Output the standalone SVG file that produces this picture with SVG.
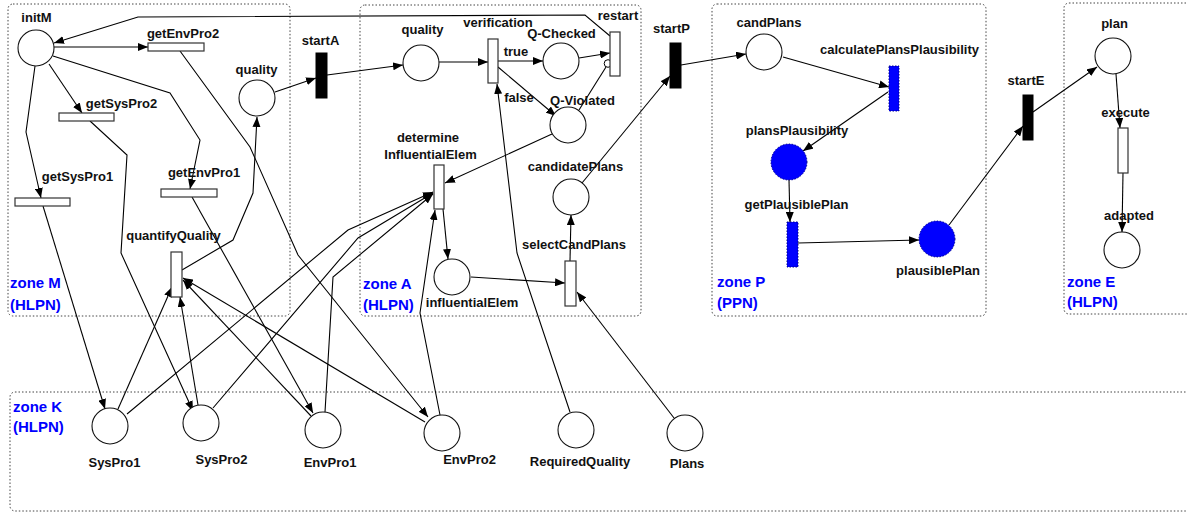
<svg xmlns="http://www.w3.org/2000/svg" width="1187" height="512" viewBox="0 0 1187 512">
<style>
.zone{fill:none;stroke:#444;stroke-width:1;stroke-dasharray:1.5,2}
.pl{fill:#fff;stroke:#111;stroke-width:1.1}
.tr{fill:#fff;stroke:#333;stroke-width:1.2}
.bar{fill:#000;stroke:#000}
.bpl{fill:#0000ff;stroke:#00008b;stroke-width:1;stroke-dasharray:1.5,1.5}
.lbl{font-family:"Liberation Sans",Arial,sans-serif;font-weight:bold;font-size:13px;fill:#111;text-anchor:middle}
.zl{font-family:"Liberation Sans",Arial,sans-serif;font-weight:bold;font-size:15px;fill:#0000ff}
.c{fill:none;stroke:#000;stroke-width:1.1}
.a{marker-end:url(#ah)}
</style>
<defs>
<marker id="ah" markerUnits="userSpaceOnUse" markerWidth="11" markerHeight="8" refX="10" refY="4" orient="auto">
<path d="M0,0 L10,4 L0,8 z" fill="#000"/>
</marker>
</defs>
<rect width="1187" height="512" fill="#fff"/>
<g id="zones">
<rect class="zone" x="8" y="4" width="282" height="312" rx="5"/>
<rect class="zone" x="360" y="5" width="281" height="311" rx="5"/>
<rect class="zone" x="712" y="4" width="274" height="312" rx="5"/>
<rect class="zone" x="1064" y="3" width="140" height="311" rx="5"/>
<rect class="zone" x="10" y="392" width="1200" height="119" rx="5"/>
<text class="zl" x="10" y="288">zone M</text><text class="zl" x="10" y="310">(HLPN)</text>
<text class="zl" x="363" y="289">zone A</text><text class="zl" x="363" y="310">(HLPN)</text>
<text class="zl" x="717" y="287">zone P</text><text class="zl" x="717" y="308">(PPN)</text>
<text class="zl" x="1067" y="287">zone E</text><text class="zl" x="1067" y="307">(HLPN)</text>
<text class="zl" x="13" y="412">zone K</text><text class="zl" x="13" y="432">(HLPN)</text>
</g>
<g id="connectors">
<polyline class="c a" points="610,36 585,15 138,17 54,43"/>
<line class="c a" x1="54" y1="47" x2="148" y2="47"/>
<line class="c a" x1="49" y1="64" x2="82" y2="113"/>
<polyline class="c a" points="35,66 26,132 41,198"/>
<polyline class="c a" points="53,56 170,93 200,140 190,189"/>
<polyline class="c a" points="180,51 250,147 298,255 428,417"/>
<polyline class="c a" points="90,121 127,155 121,253 193,411"/>
<line class="c a" x1="43" y1="206" x2="105" y2="409"/>
<line class="c a" x1="192" y1="197" x2="313" y2="413"/>
<polyline class="c a" points="182,270 233,240 253,193 257,117"/>
<line class="c a" x1="118" y1="409" x2="172" y2="287"/>
<line class="c a" x1="198" y1="405" x2="180" y2="297"/>
<line class="c a" x1="311" y1="416" x2="183" y2="280"/>
<line class="c a" x1="425" y1="422" x2="183" y2="278"/>
<polyline class="c a" points="127,414 348,230 433,192"/>
<polyline class="c a" points="213,408 358,238 433,193"/>
<polyline class="c a" points="325,412 333,277 433,194"/>
<polyline class="c a" points="440,415 420,313 435,210"/>
<line class="c a" x1="552" y1="134" x2="445" y2="183"/>
<line class="c a" x1="443" y1="209" x2="448" y2="259"/>
<line class="c a" x1="471" y1="277" x2="565" y2="283"/>
<line class="c a" x1="674" y1="418" x2="577" y2="292"/>
<line class="c a" x1="570" y1="261" x2="571" y2="215"/>
<line class="c a" x1="582" y1="183" x2="670" y2="76"/>
<polyline class="c a" points="570,412 517,253 497,84"/>
<line class="c a" x1="275" y1="92" x2="316" y2="78"/>
<line class="c a" x1="327" y1="75" x2="403" y2="65"/>
<line class="c a" x1="439" y1="62" x2="488" y2="62"/>
<line class="c a" x1="498" y1="61" x2="543" y2="61"/>
<line class="c a" x1="498" y1="67" x2="556" y2="116"/>
<line class="c a" x1="579" y1="58" x2="610" y2="53"/>
<line class="c" x1="579" y1="110" x2="606" y2="67"/>
<circle cx="608" cy="63.5" r="3.8" fill="#fff" stroke="#000" stroke-width="1"/>
<line class="c a" x1="681" y1="65" x2="746" y2="54"/>
<line class="c a" x1="783" y1="57" x2="889" y2="87"/>
<line class="c a" x1="888" y1="92" x2="803" y2="151"/>
<line class="c a" x1="789" y1="180" x2="790" y2="222"/>
<line class="c a" x1="798" y1="243" x2="919" y2="240"/>
<line class="c a" x1="949" y1="225" x2="1023" y2="126"/>
<line class="c a" x1="1033" y1="112" x2="1097" y2="67"/>
<line class="c a" x1="1116" y1="74" x2="1120" y2="128"/>
<line class="c a" x1="1123" y1="173" x2="1122" y2="232"/>
</g>
<g id="initM"><circle class="pl" cx="36" cy="48" r="18"/><text class="lbl" x="36.5" y="22">initM</text></g>
<g id="getEnvPro2"><rect class="tr" x="148" y="43" width="56" height="8"/><text class="lbl" x="183" y="38">getEnvPro2</text></g>
<g id="getSysPro2"><rect class="tr" x="59" y="113" width="55" height="8"/><text class="lbl" x="121.5" y="108">getSysPro2</text></g>
<g id="getSysPro1"><rect class="tr" x="15" y="198" width="55" height="8"/><text class="lbl" x="77.5" y="181">getSysPro1</text></g>
<g id="getEnvPro1"><rect class="tr" x="161" y="189" width="56" height="8"/><text class="lbl" x="204" y="177">getEnvPro1</text></g>
<g id="quantifyQuality"><rect class="tr" x="171" y="252" width="11" height="45"/><text class="lbl" x="173.5" y="240">quantifyQuality</text></g>
<g id="qualityM"><circle class="pl" cx="257" cy="98" r="18"/><text class="lbl" x="256.5" y="74">quality</text></g>
<g id="startA"><rect class="bar" x="316" y="53" width="11" height="45"/><text class="lbl" x="320.5" y="45">startA</text></g>
<g id="qualityA"><circle class="pl" cx="421" cy="63" r="18"/><text class="lbl" x="422.5" y="34">quality</text></g>
<g id="verification"><rect class="tr" x="488" y="39" width="10" height="44"/><text class="lbl" x="498" y="27">verification</text></g>
<g id="QChecked"><circle class="pl" cx="561" cy="61" r="18"/><text class="lbl" x="561.5" y="38">Q-Checked</text></g>
<g id="restart"><rect class="tr" x="610" y="32" width="10" height="44"/><text class="lbl" x="618" y="20">restart</text></g>
<g id="QViolated"><circle class="pl" cx="568" cy="125" r="18"/><text class="lbl" x="582.5" y="105">Q-Violated</text></g>
<g id="arcLabels"><text class="lbl" x="516" y="56">true</text><text class="lbl" x="519" y="102">false</text></g>
<g id="determineInfluentialElem"><rect class="tr" x="434" y="165" width="10" height="44"/><text class="lbl" x="428" y="142">determine</text><text class="lbl" x="430.5" y="159">InfluentialElem</text></g>
<g id="influentialElem"><circle class="pl" cx="452" cy="277" r="18"/><text class="lbl" x="472" y="307">influentialElem</text></g>
<g id="candidatePlans"><circle class="pl" cx="571" cy="197" r="18"/><text class="lbl" x="575.5" y="171">candidatePlans</text></g>
<g id="selectCandPlans"><rect class="tr" x="565" y="261" width="11" height="45"/><text class="lbl" x="574" y="249">selectCandPlans</text></g>
<g id="startP"><rect class="bar" x="670" y="43" width="11" height="45"/><text class="lbl" x="671.5" y="33">startP</text></g>
<g id="candPlans"><circle class="pl" cx="764" cy="52" r="18"/><text class="lbl" x="769" y="27">candPlans</text></g>
<g id="calculatePlansPlausibility"><rect class="bpl" x="889" y="66" width="10" height="45"/><text class="lbl" x="899.5" y="54">calculatePlansPlausibility</text></g>
<g id="plansPlausibility"><circle class="bpl" cx="789" cy="162" r="18"/><text class="lbl" x="797" y="135">plansPlausibility</text></g>
<g id="getPlausiblePlan"><rect class="bpl" x="787" y="222" width="11" height="45"/><text class="lbl" x="796.5" y="209">getPlausiblePlan</text></g>
<g id="plausiblePlan"><circle class="bpl" cx="937" cy="239" r="18"/><text class="lbl" x="938" y="275">plausiblePlan</text></g>
<g id="startE"><rect class="bar" x="1023" y="95" width="10" height="45"/><text class="lbl" x="1026" y="85">startE</text></g>
<g id="plan"><circle class="pl" cx="1113" cy="56" r="18"/><text class="lbl" x="1114.5" y="28">plan</text></g>
<g id="execute"><rect class="tr" x="1118" y="128" width="10" height="45"/><text class="lbl" x="1125.5" y="117">execute</text></g>
<g id="adapted"><circle class="pl" cx="1122" cy="250" r="18"/><text class="lbl" x="1129" y="220">adapted</text></g>
<g id="SysPro1"><circle class="pl" cx="110" cy="426" r="18"/><text class="lbl" x="114.5" y="467">SysPro1</text></g>
<g id="SysPro2"><circle class="pl" cx="201" cy="423" r="18"/><text class="lbl" x="221.5" y="464">SysPro2</text></g>
<g id="EnvPro1"><circle class="pl" cx="323" cy="430" r="18"/><text class="lbl" x="330" y="467">EnvPro1</text></g>
<g id="EnvPro2"><circle class="pl" cx="442" cy="433" r="18"/><text class="lbl" x="469.5" y="464">EnvPro2</text></g>
<g id="RequiredQuality"><circle class="pl" cx="576" cy="430" r="18"/><text class="lbl" x="580" y="466">RequiredQuality</text></g>
<g id="Plans"><circle class="pl" cx="685" cy="433" r="18"/><text class="lbl" x="687" y="468">Plans</text></g>
</svg>
